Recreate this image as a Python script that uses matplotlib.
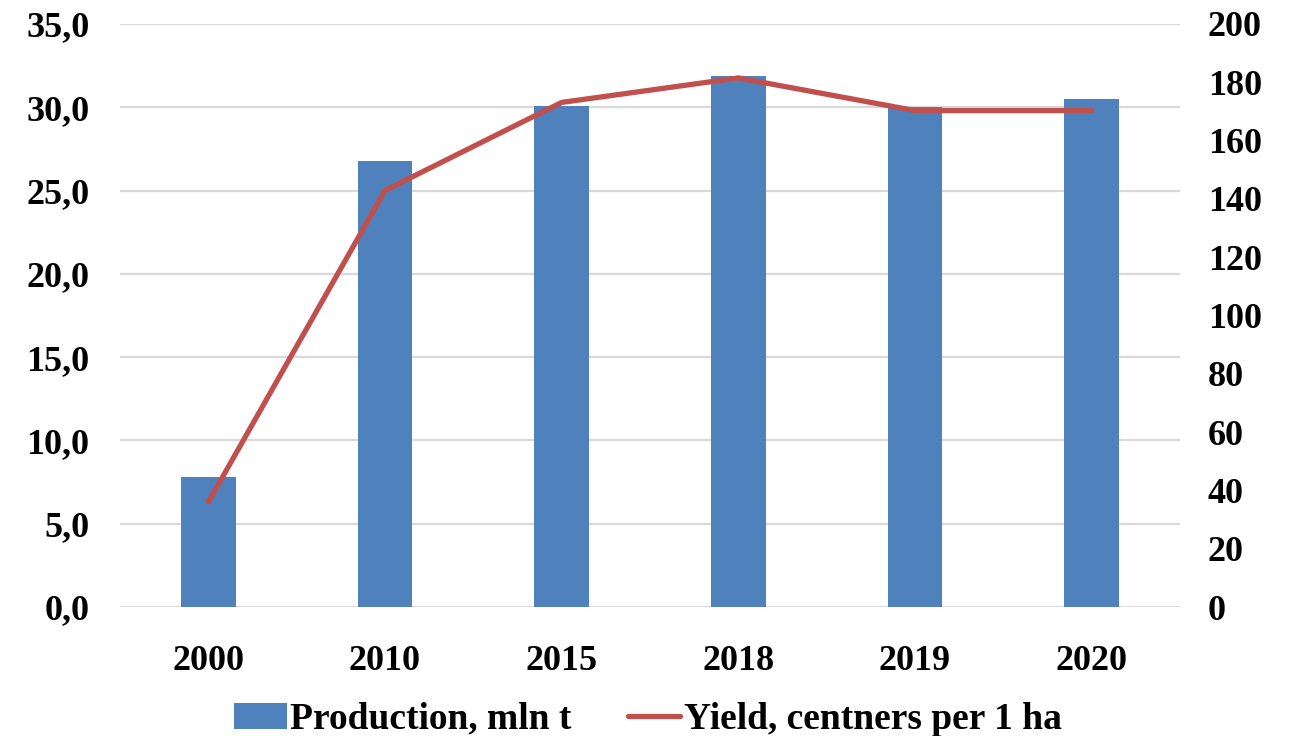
import numpy as np
import matplotlib.pyplot as plt

years = ["2000", "2010", "2015", "2018", "2019", "2020"]
production = [7.8, 26.8, 30.1, 31.9, 30.0, 30.5]
yield_ha = [36.0, 142.9, 173.1, 181.5, 170.3, 170.3]

left_ticks = np.arange(0, 35.1, 5)
right_ticks = np.arange(0, 201, 20)

plt.rcParams['font.family'] = ['Liberation Serif', 'DejaVu Serif']
font = dict(family='Liberation Serif', weight='bold', size=26)
legend_font = dict(family='Liberation Serif', weight='bold', size=27)

fig = plt.figure(figsize=(12.96, 7.36), dpi=100)
ax = fig.add_axes([120 / 1296, 1 - 607 / 736, 1060 / 1296, 583 / 736])
ax2 = ax.twinx()

x = np.arange(len(years))
bars = ax.bar(x, production, width=0.31, color='#4F81BD', zorder=2,
              label="Production, mln t")
line, = ax2.plot(x, yield_ha, color='#C0504D', linewidth=3.8,
                 solid_capstyle='round', solid_joinstyle='round',
                 label="Yield, centners per 1 ha")

ax.set_xlim(-0.5, len(years) - 0.5)
ax.set_ylim(0, 35)
ax2.set_ylim(0, 200)
ax.set_yticks(left_ticks)
ax.set_yticklabels([f"{v:.1f}".replace('.', ',') for v in left_ticks], fontdict=font)
ax2.set_yticks(right_ticks)
ax2.set_yticklabels([f"{v:d}" for v in right_ticks], fontdict=font)
ax.set_xticks(x)
ax.set_xticklabels(years, fontdict=font)

ax.grid(axis='y', color='#d9d9d9', linewidth=1.6, zorder=0)
ax.set_axisbelow(True)
for a in (ax, ax2):
    for s in a.spines.values():
        s.set_visible(False)
    a.tick_params(length=0)
ax.tick_params(axis='y', pad=22)
ax2.tick_params(axis='y', pad=20)
ax.tick_params(axis='x', pad=27)

fig.legend([bars, line], [bars.get_label(), line.get_label()],
           loc='lower center', bbox_to_anchor=(0.5, -0.047), ncol=2,
           frameon=False, prop=legend_font, handlelength=1.4,
           handletextpad=0.1, columnspacing=1.5)

fig.savefig("out.png", dpi=100)
